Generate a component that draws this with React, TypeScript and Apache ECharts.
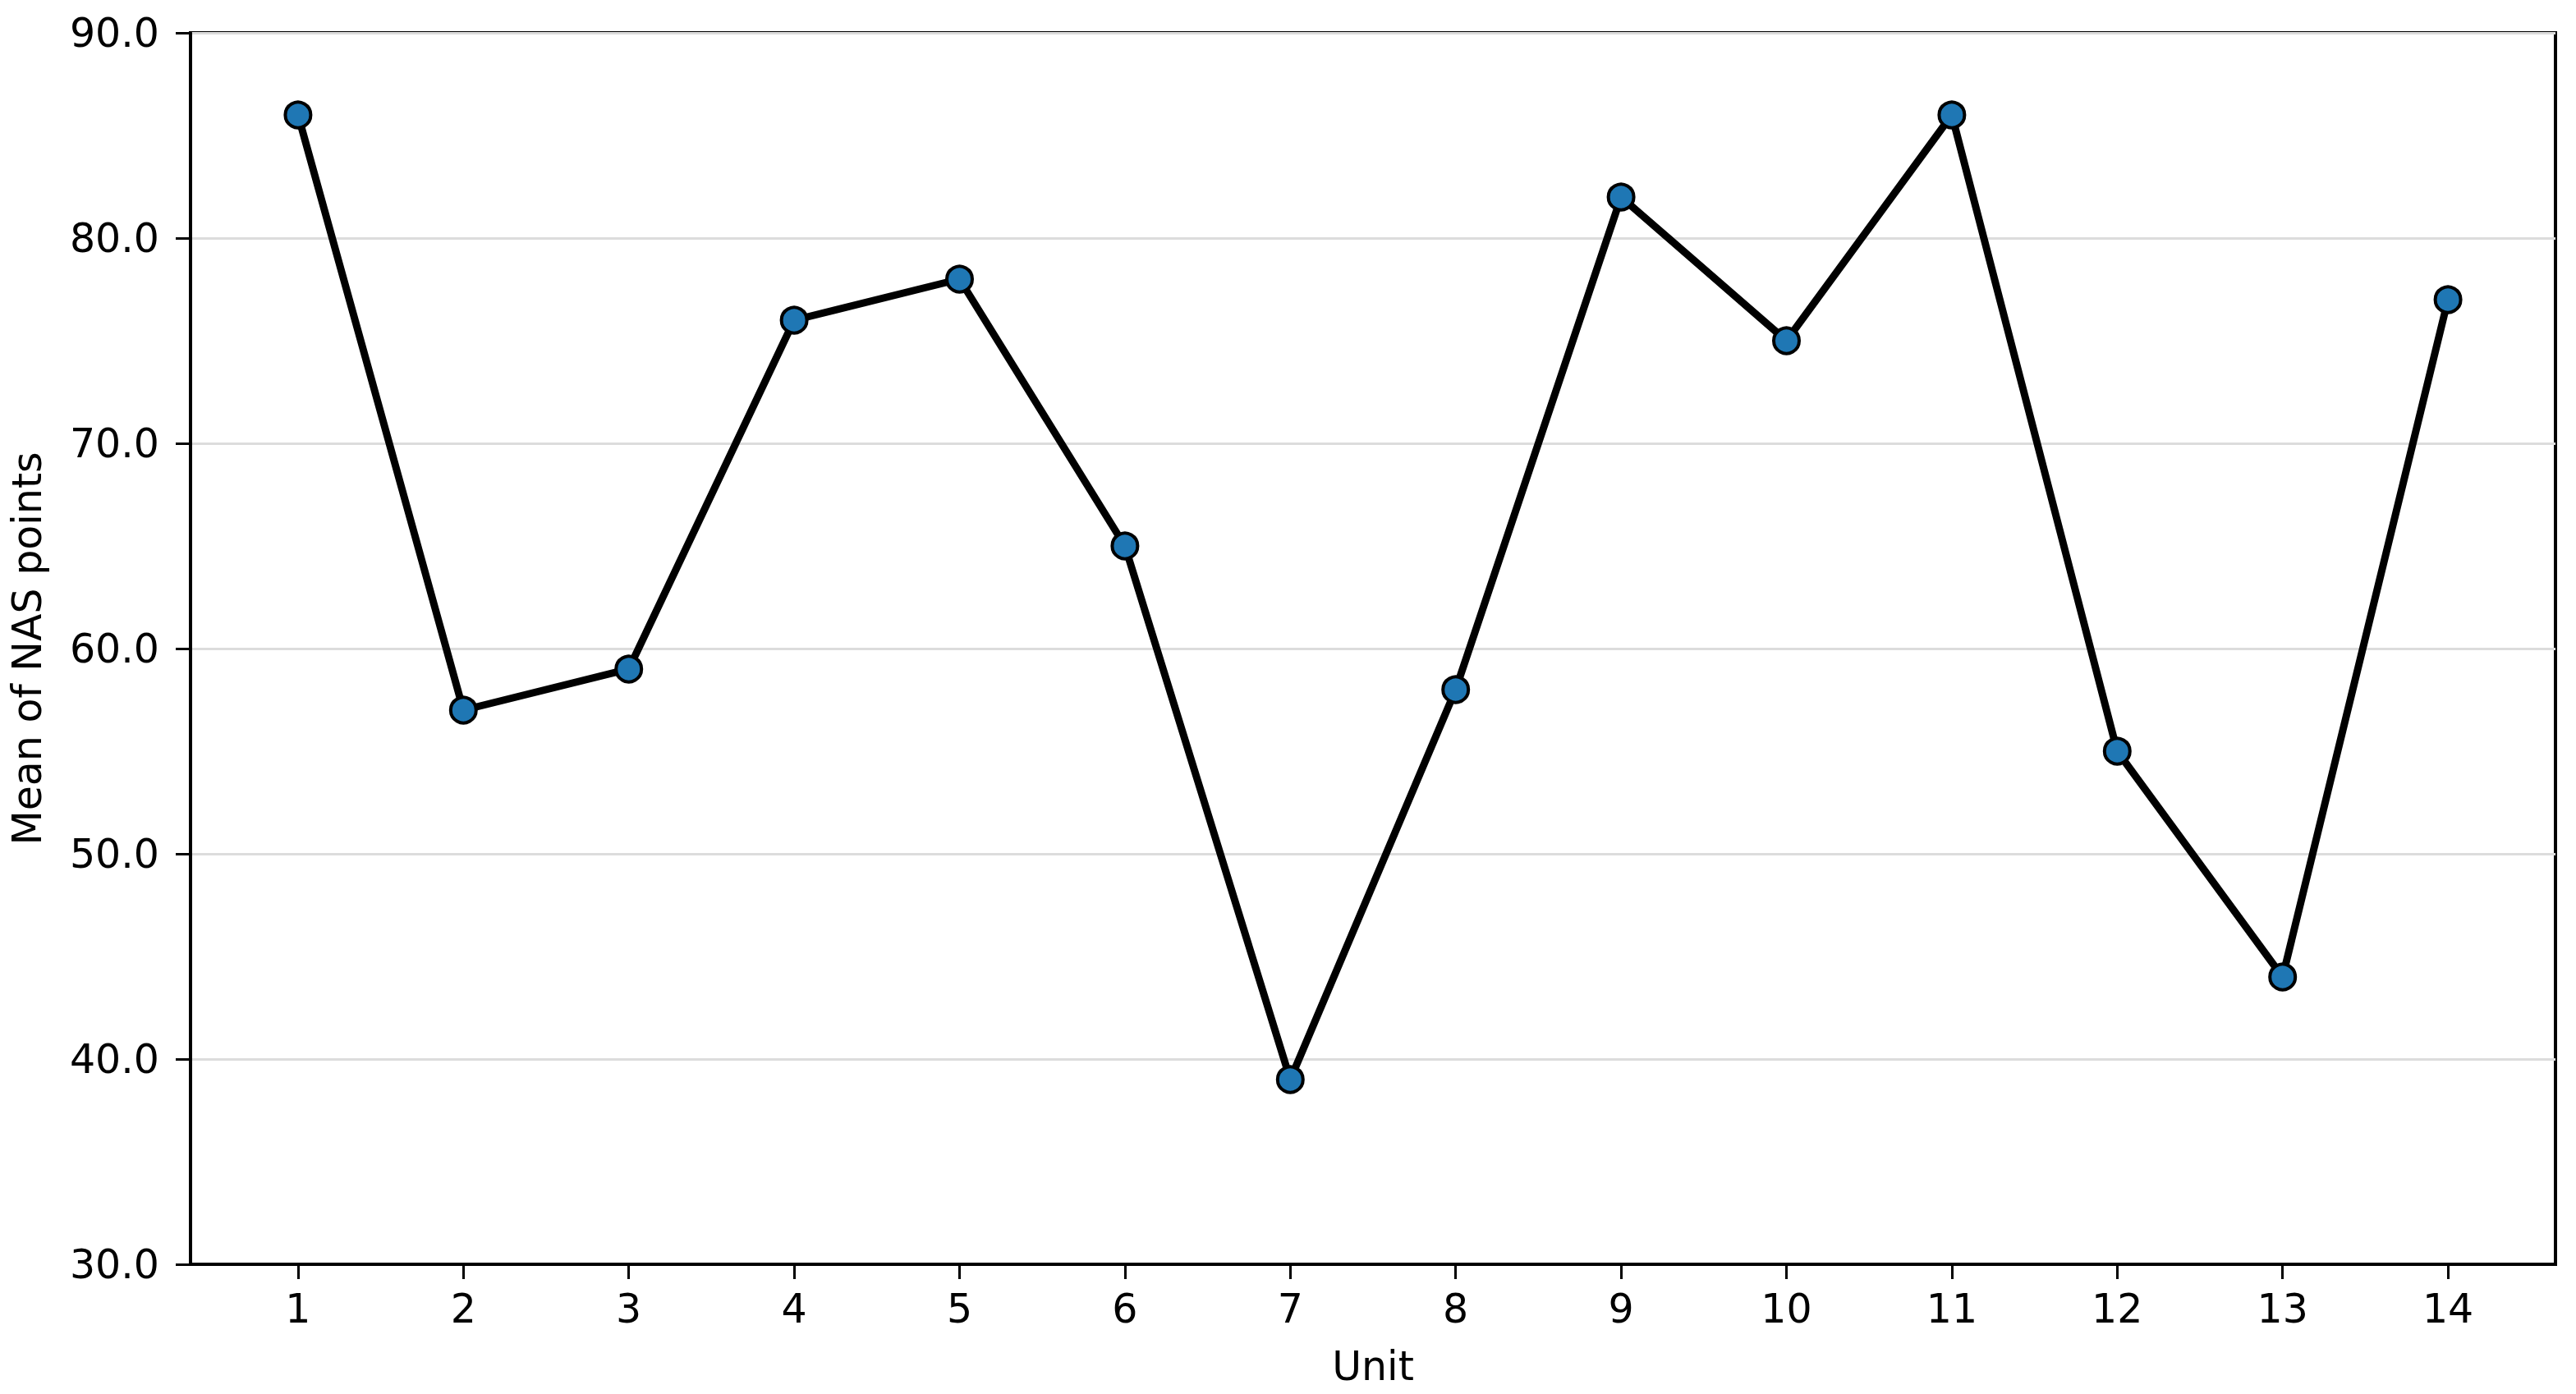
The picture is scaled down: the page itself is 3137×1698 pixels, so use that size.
import React, { useEffect, useRef } from "react";
import * as echarts from "echarts";

const units = [1, 2, 3, 4, 5, 6, 7, 8, 9, 10, 11, 12, 13, 14];
const meanNAS = [86, 57, 59, 76, 78, 65, 39, 58, 82, 75, 86, 55, 44, 77];
const yTicks = [30, 40, 50, 60, 70, 80, 90];

const FONT = "DejaVu Sans";
const FS = 49;

export default function App() {
  const ref = useRef<HTMLDivElement>(null);
  useEffect(() => {
    if (!ref.current) return;
    const chart = echarts.init(ref.current, null, { renderer: "svg" });
    chart.setOption({
      animation: false,
      backgroundColor: "#ffffff",
      grid: {
        left: 232,
        right: 25,
        top: 40,
        bottom: 158,
        show: true,
        borderColor: "#000",
        borderWidth: 4,
        backgroundColor: "transparent",
      },
      xAxis: {
        type: "value",
        min: 0.35,
        max: 14.65,
        name: "Unit",
        nameLocation: "middle",
        nameGap: 100,
        nameTextStyle: { fontFamily: FONT, fontSize: FS, color: "#000" },
        axisLine: { show: true, lineStyle: { color: "#000", width: 4 } },
        axisTick: {
          show: true,
          customValues: units,
          length: 18,
          lineStyle: { color: "#000", width: 3 },
        },
        axisLabel: {
          customValues: units,
          margin: 30,
          fontFamily: FONT,
          fontSize: FS,
          color: "#000",
          formatter: (v: number) => String(v),
        },
        splitLine: { show: false },
      },
      yAxis: {
        type: "value",
        min: 30,
        max: 90,
        interval: 10,
        name: "Mean of NAS points",
        nameLocation: "middle",
        nameGap: 174,
        nameRotate: 90,
        nameTextStyle: { fontFamily: FONT, fontSize: FS, color: "#000" },
        axisLine: { show: true, lineStyle: { color: "#000", width: 4 } },
        axisTick: {
          show: true,
          length: 18,
          lineStyle: { color: "#000", width: 3 },
        },
        axisLabel: {
          margin: 38,
          fontFamily: FONT,
          fontSize: FS,
          color: "#000",
          formatter: (v: number) => (yTicks.includes(v) ? v.toFixed(1) : ""),
        },
        splitLine: { show: true, lineStyle: { color: "#dcdcdc", width: 3 } },
      },
      series: [
        {
          type: "line",
          data: units.map((u, i) => [u, meanNAS[i]]),
          lineStyle: { color: "#000", width: 9 },
          symbol: "circle",
          symbolSize: 31,
          itemStyle: { color: "#1f77b4", borderColor: "#000", borderWidth: 4 },
          z: 3,
        },
      ],
    });
    return () => chart.dispose();
  }, []);
  return (
    <div
      ref={ref}
      style={{ position: "fixed", left: 0, top: 0, width: 3137, height: 1698 }}
    />
  );
}
